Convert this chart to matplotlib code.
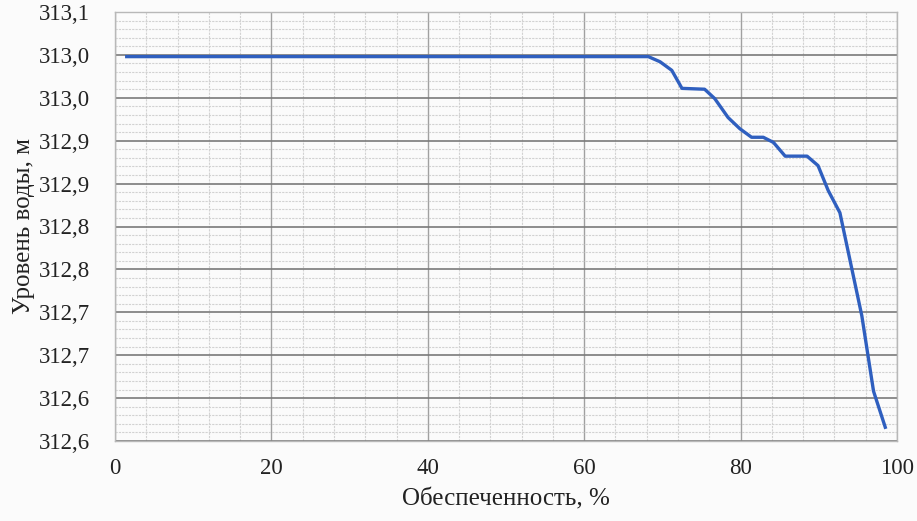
import numpy as np
import matplotlib.pyplot as plt
from matplotlib.ticker import MultipleLocator, FixedLocator

# curve
obesp = [1.5, 68.2, 69.7, 71.2, 72.5, 75.4, 76.7, 78.4, 79.9, 81.4, 82.9, 84.2,
         85.7, 88.5, 89.9, 91.2, 92.7, 95.5, 97.0, 98.5]
level = [313.048, 313.048, 313.042, 313.032, 313.011, 313.010, 312.999, 312.977,
         312.964, 312.954, 312.954, 312.948, 312.932, 312.932, 312.921, 312.892,
         312.866, 312.746, 312.658, 312.616]

y_ticks = [313.10, 313.05, 313.00, 312.95, 312.90, 312.85, 312.80, 312.75,
           312.70, 312.65, 312.60]
y_labels = ['313,1', '313,0', '313,0', '312,9', '312,9', '312,8', '312,8',
            '312,7', '312,7', '312,6', '312,6']

plt.rcParams['font.family'] = ['Liberation Serif', 'DejaVu Serif']

fig = plt.figure(figsize=(9.17, 5.21), dpi=100, facecolor='#fbfbfb')
ax = fig.add_axes([115 / 917, 1 - 441 / 521, 782 / 917, 429 / 521])
ax.set_facecolor('#fbfbfb')

ax.set_xlim(0, 100)
ax.set_ylim(312.6, 313.1)
ax.xaxis.set_major_locator(MultipleLocator(20))
ax.xaxis.set_minor_locator(MultipleLocator(4))
ax.yaxis.set_major_locator(FixedLocator(y_ticks))
ax.yaxis.set_minor_locator(MultipleLocator(0.01))
ax.set_yticklabels(y_labels)

ax.grid(which='minor', color='#d2d2d2', lw=0.8, ls=(0, (2, 1)))
ax.grid(which='major', axis='y', color='#7a7a7a', lw=1.2)
ax.grid(which='major', axis='x', color='#a0a0a0', lw=1.0)
ax.set_axisbelow(True)

for s in ax.spines.values():
    s.set_color('#b8b8b8')
    s.set_linewidth(1.0)

ax.tick_params(which='both', length=0, labelsize=16.5, colors='#222222')
ax.tick_params(axis='y', pad=18)
ax.tick_params(axis='x', pad=12)

ax.plot(obesp, level, color='#2f5fbf', lw=2.4, solid_joinstyle='round')

ax.set_xlabel('Обеспеченность, %', fontsize=18, color='#222222', labelpad=7)
ax.set_ylabel('Уровень воды, м', fontsize=18, color='#222222', labelpad=3)

fig.savefig('out.png', dpi=100, facecolor=fig.get_facecolor())
